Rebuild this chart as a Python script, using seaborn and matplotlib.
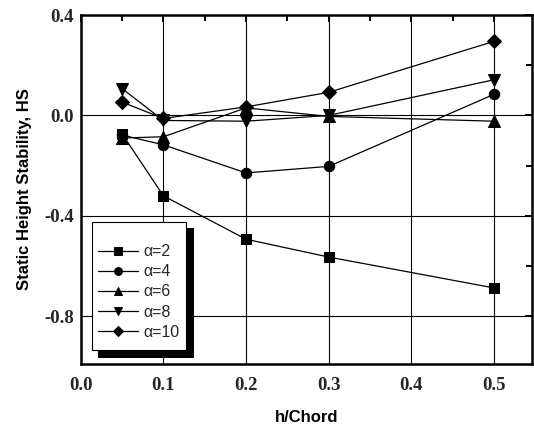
import numpy as np
import pandas as pd
import matplotlib
matplotlib.use("Agg")
import matplotlib.pyplot as plt
import seaborn as sns
from matplotlib.patches import Rectangle
from matplotlib.ticker import MultipleLocator, FixedLocator, FuncFormatter

sns.set_theme(style="white")

h_chord = [0.05, 0.1, 0.2, 0.3, 0.5]
hs_a2 = [-0.073, -0.32, -0.493, -0.564, -0.687]
hs_a4 = [-0.078, -0.117, -0.229, -0.203, 0.084]
hs_a6 = [-0.09, -0.085, 0.03, -0.004, -0.023]
hs_a8 = [0.107, -0.02, -0.023, 0.0, 0.142]
hs_a10 = [0.053, -0.012, 0.034, 0.092, 0.295]
labels = ["\u03b1=2", "\u03b1=4", "\u03b1=6", "\u03b1=8", "\u03b1=10"]
series = [hs_a2, hs_a4, hs_a6, hs_a8, hs_a10]
markers = ["s", "o", "^", "v", "D"]
msizes = [7.5, 7.5, 8, 8, 7]

xticks = [0.0, 0.1, 0.2, 0.3, 0.4, 0.5]
yticks = [-0.8, -0.4, 0.0, 0.4]

W, H = 534, 428
fig = plt.figure(figsize=(W / 100, H / 100), dpi=100)
AX_L, AX_R, AX_T, AX_B = 80.7, 532.0, 15.0, 364.0
ax = fig.add_axes([AX_L / W, 1 - AX_B / H, (AX_R - AX_L) / W, (AX_B - AX_T) / H])
ax.set_facecolor("white")

for lab, vals, m, ms in zip(labels, series, markers, msizes):
    df = pd.DataFrame({"x": h_chord, "y": vals})
    sns.lineplot(data=df, x="x", y="y", ax=ax, color="black", lw=0.9,
                 marker=m, markersize=ms, markeredgecolor="black",
                 markerfacecolor="black", label=lab, zorder=3)

ax.set_xlim(0, 0.546)
ax.set_ylim(-0.99, 0.4)
ax.xaxis.set_major_locator(FixedLocator(xticks))
ax.xaxis.set_minor_locator(MultipleLocator(0.05))
ax.yaxis.set_major_locator(FixedLocator(yticks))
ax.yaxis.set_minor_locator(MultipleLocator(0.2))
ax.yaxis.set_major_formatter(FuncFormatter(lambda v, p: "0.0" if abs(v) < 1e-9 else f"{v:.1f}"))
ax.xaxis.set_major_formatter(FuncFormatter(lambda v, p: f"{v:.1f}"))

ax.grid(True, which="major", color="black", lw=0.8)
ax.set_axisbelow(True)
for s in ax.spines.values():
    s.set_color("black")
    s.set_linewidth(1.8)

ax.tick_params(which="both", direction="in", top=True, right=True, color="black")
ax.tick_params(which="major", length=5, width=1.4)
ax.tick_params(which="minor", length=4, width=1.4)
for t in ax.get_xticklabels() + ax.get_yticklabels():
    t.set_fontfamily("Liberation Serif")
    t.set_fontweight("bold")
    t.set_fontsize(13.5)
ax.tick_params(axis="x", pad=9)
ax.tick_params(axis="y", pad=5)

ax.set_xlabel("h/Chord", fontfamily="Liberation Sans", fontweight="bold", fontsize=12, labelpad=12, color="black")
ax.set_ylabel("Static Height Stability, HS", fontfamily="Liberation Sans", fontweight="bold", fontsize=12, labelpad=9, color="black")


def px2ax(px, py):
    return ((px - AX_L) / (AX_R - AX_L), (AX_B - py) / (AX_B - AX_T))


# legend frame and shadow
bx0, by0 = px2ax(91.7, 350.0)
bx1, by1 = px2ax(186.0, 221.7)
sx0, sy0 = px2ax(98.0, 357.5)
sx1, sy1 = px2ax(193.5, 228.0)
ax.add_patch(Rectangle((sx0, sy0), sx1 - sx0, sy1 - sy0, transform=ax.transAxes,
                       facecolor="black", edgecolor="none", zorder=5, clip_on=False))
ax.add_patch(Rectangle((bx0, by0), bx1 - bx0, by1 - by0, transform=ax.transAxes,
                       facecolor="white", edgecolor="black", lw=0.8, zorder=5.2, clip_on=False))

lx, ly = px2ax(97.5, 292.0)
leg = ax.legend(loc="center left", bbox_to_anchor=(lx, ly), frameon=False,
                prop={"family": "Liberation Sans", "size": 11.5},
                handlelength=2.55, handletextpad=0.35, labelspacing=0.32,
                borderpad=0, markerscale=0.75, borderaxespad=0)
leg.set_zorder(6)

fig.savefig("out.png", dpi=100)
